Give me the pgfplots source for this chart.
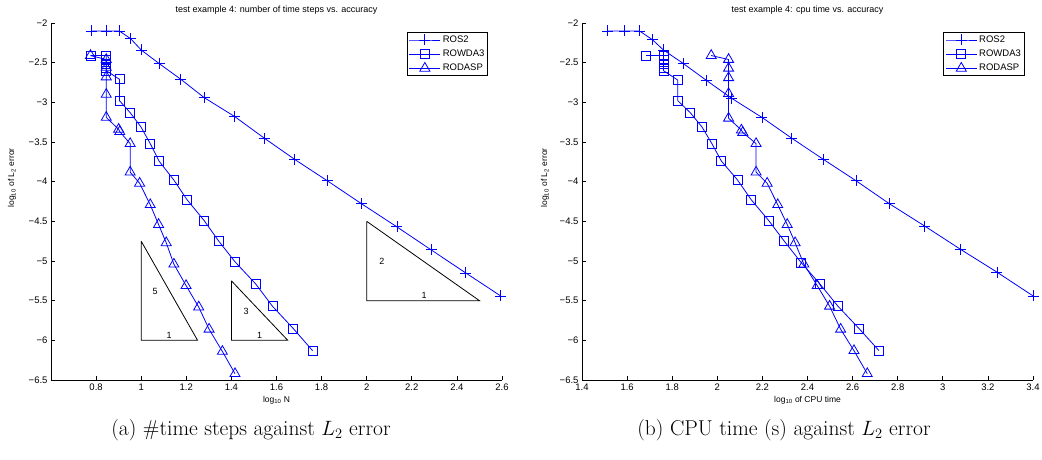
\documentclass[border=0pt]{standalone}
\usepackage{fontspec}
\usepackage{pgfplots}
\pgfplotsset{compat=1.18}
\newfontfamily\arial{Liberation Sans}

\pgfplotsset{
  mlab/.style={
    scale only axis, width=451pt, height=357pt,
    axis x line=bottom, axis y line=left, axis line style={-, line width=0.8pt},
    tick align=inside, major tick length=4pt, tick style={line width=0.8pt, black},
    ymin=-6.5, ymax=-2,
    ytick={-6.5,-6,-5.5,-5,-4.5,-4,-3.5,-3,-2.5,-2},
    yticklabels={−6.5,−6,−5.5,−5,−4.5,−4,−3.5,−3,−2.5,−2},
    /pgf/number format/assume math mode=true,
    tick label style={font=\arial\fontsize{9.5}{11}\selectfont},
    title style={font=\arial\fontsize{9}{10}\selectfont, anchor=base, at={(axis description cs:0.5,1)}, yshift=5pt},
    clip=false,
    legend style={draw=black, line width=1pt, font=\arial\fontsize{9.5}{11}\selectfont,
      inner sep=1.5pt, row sep=2pt, cells={anchor=west}, anchor=north east},
    legend image code/.code={\draw[mark repeat=2,mark phase=2] plot coordinates {(0pt,0pt)(15.5pt,0pt)(31pt,0pt)};},
  },
  ros/.style={blue, line width=0.8pt, mark=+, mark size=5.5pt, mark options={solid, draw=blue}},
  row/.style={blue, line width=0.8pt, mark=square, mark size=4.5pt, mark options={solid, draw=blue}},
  rod/.style={blue, line width=0.8pt, mark=triangle, mark size=5.8pt, mark options={solid, draw=blue}},
  slope/.style={black, line width=0.8pt, mark=none, forget plot},
}

\begin{document}
\begin{tikzpicture}
\path[use as bounding box] (0,0) rectangle (1042pt,459pt);

% left panel: number of steps
\begin{axis}[mlab, at={(51pt,79pt)}, anchor=south west,
  xmin=0.6, xmax=2.6, xtick={0.8,1,1.2,1.4,1.6,1.8,2,2.2,2.4,2.6},
  title={test example 4: number of time steps vs. accuracy},
  xlabel={log\textsubscript{10} N}, ylabel={log\textsubscript{10} of L\textsubscript{2} error},
  every axis x label/.style={at={(axis description cs:0.5,-0.056)}, anchor=center, font=\arial\fontsize{8.5}{10}\selectfont},
  every axis y label/.style={at={(axis description cs:-0.0865,0.566)}, rotate=90, anchor=center, font=\arial\fontsize{8.5}{10}\selectfont},
  legend style={at={(axis description cs:0.97,0.975)}},
]
\addplot[ros] coordinates {(0.778,-2.10)(0.845,-2.10)(0.903,-2.10)(0.954,-2.20)(1.000,-2.34)(1.079,-2.51)(1.176,-2.71)(1.279,-2.94)(1.415,-3.18)(1.545,-3.45)(1.681,-3.72)(1.826,-3.99)(1.978,-4.28)(2.134,-4.57)(2.286,-4.86)(2.439,-5.15)(2.594,-5.44)};
\addplot[row] coordinates {(0.778,-2.41)(0.845,-2.41)(0.845,-2.47)(0.845,-2.52)(0.845,-2.57)(0.845,-2.60)(0.904,-2.71)(0.904,-2.98)(0.951,-3.13)(0.999,-3.31)(1.040,-3.52)(1.079,-3.74)(1.145,-3.98)(1.204,-4.23)(1.279,-4.49)(1.344,-4.75)(1.416,-5.01)(1.508,-5.29)(1.582,-5.57)(1.674,-5.85)(1.760,-6.13)};
\addplot[rod] coordinates {(0.775,-2.41)(0.845,-2.46)(0.845,-2.56)(0.845,-2.68)(0.845,-2.90)(0.845,-3.19)(0.900,-3.34)(0.905,-3.37)(0.951,-3.52)(0.951,-3.88)(0.993,-4.02)(1.040,-4.29)(1.077,-4.54)(1.111,-4.77)(1.145,-5.04)(1.199,-5.31)(1.255,-5.58)(1.301,-5.86)(1.360,-6.14)(1.416,-6.42)};
\legend{ROS2,ROWDA3,RODASP}
\addplot[slope] coordinates {(1,-4.75)(1,-6)(1.25,-6)(1,-4.75)};
\addplot[slope] coordinates {(1.4,-5.25)(1.4,-6)(1.65,-6)(1.4,-5.25)};
\addplot[slope] coordinates {(2,-4.5)(2,-5.5)(2.5,-5.5)(2,-4.5)};
\node[font=\arial\fontsize{9}{10}\selectfont] at (axis cs:1.062,-5.38) {5};
\node[font=\arial\fontsize{9}{10}\selectfont] at (axis cs:1.124,-5.94) {1};
\node[font=\arial\fontsize{9}{10}\selectfont] at (axis cs:1.465,-5.64) {3};
\node[font=\arial\fontsize{9}{10}\selectfont] at (axis cs:1.525,-5.94) {1};
\node[font=\arial\fontsize{9}{10}\selectfont] at (axis cs:2.067,-5.00) {2};
\node[font=\arial\fontsize{9}{10}\selectfont] at (axis cs:2.255,-5.43) {1};
\end{axis}

% right panel: cpu time
\begin{axis}[mlab, at={(582pt,79pt)}, anchor=south west,
  xmin=1.4, xmax=3.4, xtick={1.4,1.6,1.8,2,2.2,2.4,2.6,2.8,3,3.2,3.4},
  title={test example 4: cpu time vs. accuracy},
  xlabel={log\textsubscript{10} of CPU time}, ylabel={log\textsubscript{10} of L\textsubscript{2} error},
  every axis x label/.style={at={(axis description cs:0.5,-0.056)}, anchor=center, font=\arial\fontsize{8.5}{10}\selectfont},
  every axis y label/.style={at={(axis description cs:-0.082,0.566)}, rotate=90, anchor=center, font=\arial\fontsize{8.5}{10}\selectfont},
  legend style={at={(axis description cs:0.982,0.975)}},
]
\addplot[ros] coordinates {(1.512,-2.10)(1.590,-2.10)(1.655,-2.10)(1.712,-2.21)(1.761,-2.34)(1.849,-2.51)(1.950,-2.72)(2.064,-2.95)(2.198,-3.19)(2.329,-3.45)(2.471,-3.72)(2.616,-3.99)(2.764,-4.28)(2.920,-4.56)(3.077,-4.85)(3.240,-5.14)(3.400,-5.44)};
\addplot[row] coordinates {(1.684,-2.41)(1.761,-2.41)(1.761,-2.46)(1.761,-2.51)(1.761,-2.56)(1.761,-2.60)(1.825,-2.72)(1.825,-2.98)(1.880,-3.13)(1.932,-3.31)(1.976,-3.52)(2.018,-3.74)(2.090,-3.98)(2.151,-4.23)(2.228,-4.49)(2.297,-4.75)(2.372,-5.02)(2.455,-5.29)(2.535,-5.57)(2.628,-5.85)(2.717,-6.13)};
\addplot[rod] coordinates {(1.973,-2.41)(2.050,-2.46)(2.050,-2.57)(2.050,-2.69)(2.050,-2.89)(2.050,-3.20)(2.107,-3.35)(2.113,-3.38)(2.172,-3.52)(2.172,-3.88)(2.221,-4.02)(2.268,-4.29)(2.310,-4.54)(2.345,-4.77)(2.384,-5.04)(2.443,-5.31)(2.498,-5.57)(2.547,-5.86)(2.606,-6.13)(2.665,-6.42)};
\legend{ROS2,ROWDA3,RODASP}
\end{axis}

\node[font=\fontsize{21.5}{26}\selectfont] at (251pt,29pt) {(a) \#time steps against $L_2$ error};
\node[font=\fontsize{21.5}{26}\selectfont] at (784pt,29pt) {(b) CPU time (s) against $L_2$ error};
\end{tikzpicture}
\end{document}
